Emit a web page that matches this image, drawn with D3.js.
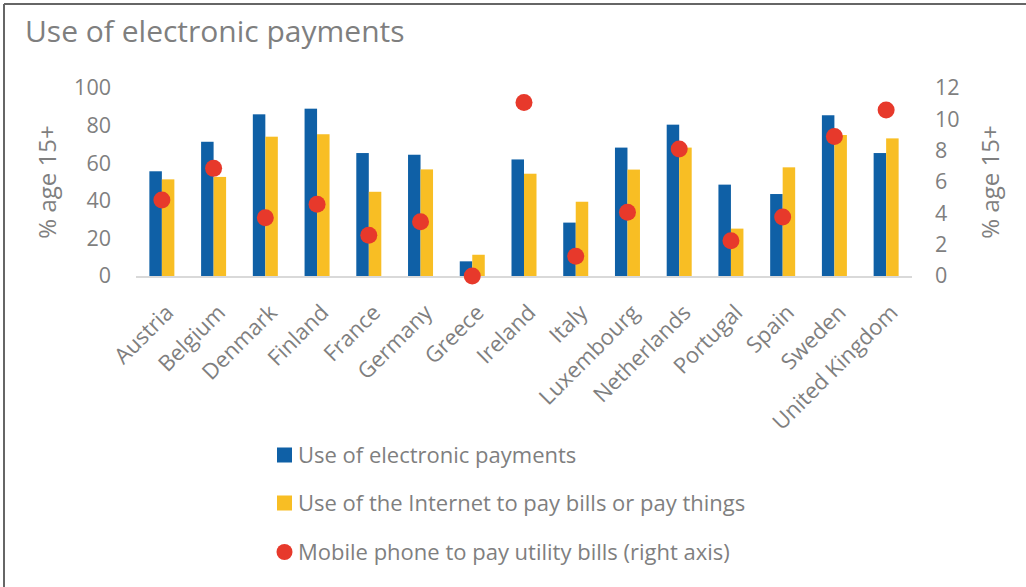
<!DOCTYPE html>
<html>
<head>
<meta charset="utf-8">
<script src="https://cdn.jsdelivr.net/npm/d3@7"></script>
<style>
  body { margin: 0; background: #fff; }
  text { font-family: "Open Sans", sans-serif; fill: #7f7f7f; }
</style>
</head>
<body>
<div id="chart"></div>
<script>
// data
var countries = ["Austria", "Belgium", "Denmark", "Finland", "France", "Germany", "Greece", "Ireland",
                 "Italy", "Luxembourg", "Netherlands", "Portugal", "Spain", "Sweden", "United Kingdom"];
var electronic = [55.7, 71.4, 86, 89, 65.4, 64.5, 7.8, 62, 28.4, 68.3, 80.5, 48.6, 43.6, 85.5, 65.4];
var internet   = [51.4, 52.7, 74.1, 75.4, 44.8, 56.7, 11.3, 54.4, 39.5, 56.6, 68.3, 25.2, 57.8, 75, 73.2];
var mobile     = [4.85, 6.87, 3.72, 4.58, 2.6, 3.47, 0, 11.08, 1.26, 4.07, 8.1, 2.25, 3.77, 8.9, 10.6];
var leftTicks  = [0, 20, 40, 60, 80, 100];
var rightTicks = [0, 2, 4, 6, 8, 10, 12];
var seriesNames = ["Use of electronic payments",
                   "Use of the Internet to pay bills or pay things",
                   "Mobile phone to pay utility bills (right axis)"];

var width = 1026, height = 587;
var colors = {blue: "#0f60a6", yellow: "#f8be24", red: "#e7392b"};

var svg = d3.select("#chart")
  .append("svg")
    .attr("width", width)
    .attr("height", height);

// frame lines (top and left only)
svg.append("line").attr("x1", 4).attr("x2", width).attr("y1", 4).attr("y2", 4)
   .attr("stroke", "#666").attr("stroke-width", 2);
svg.append("line").attr("x1", 4).attr("x2", 4).attr("y1", 4).attr("y2", height)
   .attr("stroke", "#666").attr("stroke-width", 2);

svg.append("text")
   .attr("x", 25).attr("y", 42)
   .style("font-size", "30px")
   .text("Use of electronic payments");

var x = d3.scaleBand()
  .domain(countries)
  .range([136, 912]);

var yL = d3.scaleLinear().domain([0, 100]).range([276, 88]);
var yR = d3.scaleLinear().domain([0, 12]).range([276, 88]);

var barW = 12.5;

// left axis
var axL = svg.append("g")
  .attr("transform", "translate(111,0)")
  .call(d3.axisLeft(yL).tickValues(leftTicks).tickSize(0).tickPadding(0));
axL.select(".domain").remove();
axL.selectAll("text").style("font-size", "21.5px").style("fill", "#7f7f7f").attr("font-family", null);

// right axis
var axR = svg.append("g")
  .attr("transform", "translate(935,0)")
  .call(d3.axisRight(yR).tickValues(rightTicks).tickSize(0).tickPadding(0));
axR.select(".domain").remove();
axR.selectAll("text").style("font-size", "21.5px").style("fill", "#7f7f7f").attr("font-family", null);

// axis titles
svg.append("text")
   .attr("transform", "translate(56,182) rotate(-90)")
   .attr("text-anchor", "middle")
   .style("font-size", "24px")
   .text("% age 15+");
svg.append("text")
   .attr("transform", "translate(999,182) rotate(-90)")
   .attr("text-anchor", "middle")
   .style("font-size", "24px")
   .text("% age 15+");

// bars
svg.selectAll("rect.blue")
  .data(countries)
  .enter()
  .append("rect")
    .attr("class", "blue")
    .attr("x", function(d) { return x(d) + x.bandwidth() / 2 - barW; })
    .attr("y", function(d, i) { return yL(electronic[i]); })
    .attr("width", barW)
    .attr("height", function(d, i) { return yL(0) - yL(electronic[i]); })
    .style("fill", colors.blue);

svg.selectAll("rect.yellow")
  .data(countries)
  .enter()
  .append("rect")
    .attr("class", "yellow")
    .attr("x", function(d) { return x(d) + x.bandwidth() / 2; })
    .attr("y", function(d, i) { return yL(internet[i]); })
    .attr("width", barW)
    .attr("height", function(d, i) { return yL(0) - yL(internet[i]); })
    .style("fill", colors.yellow);

// baseline
svg.append("line")
   .attr("x1", 136).attr("x2", 912)
   .attr("y1", yL(0) + 1).attr("y2", yL(0) + 1)
   .attr("stroke", "#d9d9d9").attr("stroke-width", 2);

// dots on right axis
svg.selectAll("circle.dot")
  .data(countries)
  .enter()
  .append("circle")
    .attr("class", "dot")
    .attr("cx", function(d) { return x(d) + x.bandwidth() / 2; })
    .attr("cy", function(d, i) { return yR(mobile[i]); })
    .attr("r", 8.5)
    .style("fill", colors.red);

// category labels, rotated
svg.selectAll("text.cat")
  .data(countries)
  .enter()
  .append("text")
    .attr("class", "cat")
    .attr("text-anchor", "end")
    .attr("transform", function(d) {
      return "translate(" + (x(d) + x.bandwidth() / 2 + 13) + ",314) rotate(-45)";
    })
    .style("font-size", "22px")
    .text(function(d) { return d; });

// legend
var legend = svg.append("g");
var rows = [455, 503, 552];
legend.append("rect").attr("x", 277).attr("y", rows[0] - 7.5).attr("width", 15).attr("height", 15).style("fill", colors.blue);
legend.append("rect").attr("x", 277).attr("y", rows[1] - 7.5).attr("width", 15).attr("height", 15).style("fill", colors.yellow);
legend.append("circle").attr("cx", 284.5).attr("cy", rows[2]).attr("r", 8).style("fill", colors.red);
legend.selectAll("text")
  .data(seriesNames)
  .enter()
  .append("text")
    .attr("x", 298)
    .attr("y", function(d, i) { return rows[i]; })
    .attr("dy", "0.35em")
    .style("font-size", "22px")
    .text(function(d) { return d; });
</script>
</body>
</html>
